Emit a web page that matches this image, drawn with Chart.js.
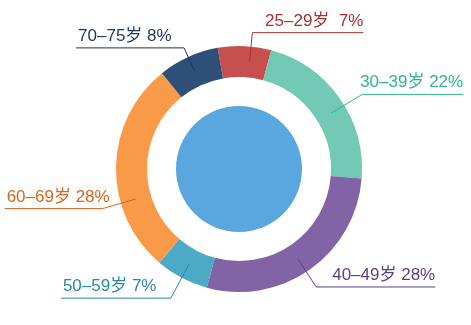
<!DOCTYPE html>
<html>
<head>
<meta charset="utf-8">
<script src="https://cdn.jsdelivr.net/npm/chart.js@4"></script>
<style>
  html, body { margin: 0; padding: 0; background: #ffffff; }
  #wrap { width: 471px; height: 325px; position: relative; }
</style>
</head>
<body>
<div id="wrap"><canvas id="ageChart"></canvas></div>
<script>
"use strict";

// Age groups and their share of the total (%)
const ageGroups = ["25–29岁", "30–39岁", "40–49岁", "50–59岁", "60–69岁", "70–75岁"];
const shares = [7, 22, 28, 7, 28, 8];
const gaps = ["  ", " ", " ", " ", " ", " "];

// Slice fill and label colours
const sliceColors = ["#c6504d", "#72c9b4", "#8264a6", "#4baac6", "#f89a48", "#2e5078"];
const labelColors = ["#a8302e", "#2db590", "#5b3f8a", "#2b86a3", "#d5651c", "#1e3658"];

// Leader line tweaks: angle shift (deg), radial length past the ring, horizontal run
const leaders = [
  { shift: 3, len: 14, run: 111 },
  { shift: 4, len: 21, run: 101 },
  { shift: 2, len: 18, run: 119 },
  { shift: 0, len: 23, run: 110 },
  { shift: -17, len: 19, run: 98 },
  { shift: 0, len: 10, run: 108 },
];

// Solid disc in the middle plus outside labels with leader lines
const ringDecor = {
  id: "ringDecor",
  afterDatasetsDraw(chart) {
    const ctx = chart.ctx;
    const arcs = chart.getDatasetMeta(0).data;
    if (!arcs.length) return;

    const first = arcs[0].getProps(["x", "y", "innerRadius", "outerRadius"], true);
    ctx.save();
    ctx.fillStyle = "#5aa7e0";
    ctx.beginPath();
    ctx.arc(first.x, first.y, first.innerRadius * 0.685, 0, Math.PI * 2);
    ctx.fill();
    ctx.restore();

    ctx.save();
    ctx.font = '17px "Liberation Sans", Arial, "Noto Sans CJK SC", sans-serif';
    ctx.textBaseline = "alphabetic";
    arcs.forEach((arc, i) => {
      const p = arc.getProps(["x", "y", "startAngle", "endAngle", "innerRadius", "outerRadius"], true);
      const cfg = leaders[i];
      const mid = (p.startAngle + p.endAngle) / 2 + (cfg.shift * Math.PI) / 180;
      const r0 = (p.innerRadius + p.outerRadius) / 2;
      const r1 = p.outerRadius + cfg.len;
      const sx = p.x + Math.cos(mid) * r0;
      const sy = p.y + Math.sin(mid) * r0;
      const ex = p.x + Math.cos(mid) * r1;
      const ey = p.y + Math.sin(mid) * r1;
      const right = Math.cos(mid) >= 0;
      const hx = right ? ex + cfg.run : ex - cfg.run;

      ctx.strokeStyle = labelColors[i];
      ctx.lineWidth = 1;
      ctx.beginPath();
      ctx.moveTo(sx, sy);
      ctx.lineTo(ex, ey);
      ctx.lineTo(hx, ey);
      ctx.stroke();

      ctx.fillStyle = labelColors[i];
      ctx.textAlign = right ? "right" : "left";
      const text = ageGroups[i] + gaps[i] + shares[i] + "%";
      ctx.fillText(text, right ? hx : hx + 2, ey - 7);
    });
    ctx.restore();
  },
};

new Chart(document.getElementById("ageChart"), {
  type: "doughnut",
  data: {
    labels: ageGroups,
    datasets: [
      {
        data: shares,
        backgroundColor: sliceColors,
        borderWidth: 0,
      },
    ],
  },
  options: {
    responsive: true,
    maintainAspectRatio: false,
    animation: false,
    cutout: "74.8%",
    rotation: -10,
    layout: {
      padding: { left: 116, right: 109, top: 46, bottom: 33 },
    },
    plugins: {
      legend: { display: false },
      tooltip: { enabled: false },
    },
  },
  plugins: [ringDecor],
});
</script>
</body>
</html>
